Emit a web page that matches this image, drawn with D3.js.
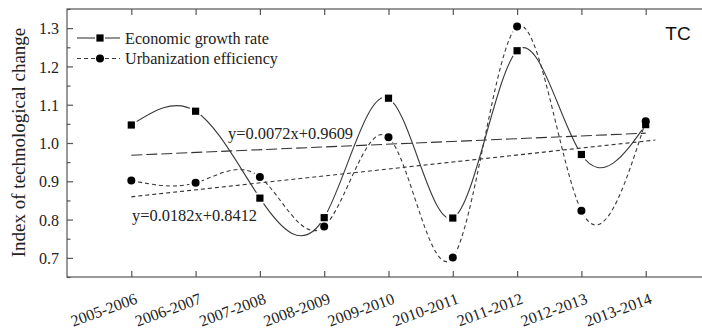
<!DOCTYPE html>
<html>
<head>
<meta charset="utf-8">
<script src="https://cdn.jsdelivr.net/npm/d3@7"></script>
<style>
  html, body { margin: 0; padding: 0; background: #fff; }
  svg { display: block; }
</style>
</head>
<body>
<svg id="chart" width="702" height="329"></svg>
<script>
// Periods on the category axis
const periods = ["2005-2006", "2006-2007", "2007-2008", "2008-2009", "2009-2010",
                 "2010-2011", "2011-2012", "2012-2013", "2013-2014"];
// Index of technological change (TC) per period
const economicGrowth = [1.047, 1.083, 0.856, 0.805, 1.117, 0.804, 1.241, 0.970, 1.048];
const urbanEfficiency = [0.902, 0.896, 0.911, 0.782, 1.015, 0.701, 1.304, 0.823, 1.057];
// Linear trend fits (x = 1..9)
const trendEconomic = { slope: 0.0072, intercept: 0.9609, label: "y=0.0072x+0.9609" };
const trendUrban = { slope: 0.0182, intercept: 0.8412, label: "y=0.0182x+0.8412" };
const yTicks = [0.7, 0.8, 0.9, 1.0, 1.1, 1.2, 1.3];
const yMinorTicks = [0.65, 0.75, 0.85, 0.95, 1.05, 1.15, 1.25, 1.35];
const seriesNames = ["Economic growth rate", "Urbanization efficiency"];

const svg = d3.select("#chart");
const serif = "'Liberation Serif', 'Times New Roman', serif";
const ink = "#222";
const frameColor = "#555";

const plot = { left: 67, right: 710, top: 9, bottom: 277 };
const x = d3.scaleLinear().domain([0, 10]).range([plot.left, plot.right]);
const y = d3.scaleLinear().domain([0.65, 1.35]).range([plot.bottom, plot.top]);
const xi = i => x(i + 1);

// Frame and ticks
const axes = svg.append("g");
axes.append("rect")
  .attr("x", plot.left).attr("y", plot.top)
  .attr("width", plot.right - plot.left).attr("height", plot.bottom - plot.top)
  .attr("fill", "none").attr("stroke", frameColor).attr("stroke-width", 1.2);

const leftAxis = d3.axisRight(y).tickValues(yTicks).tickSize(6).tickFormat(d3.format(".1f"));
const gl = axes.append("g").attr("transform", `translate(${plot.left},0)`).call(leftAxis);
gl.select(".domain").remove();
gl.selectAll(".tick line").attr("stroke", frameColor).attr("stroke-width", 1.2);
gl.selectAll(".tick text")
  .attr("x", -8).attr("text-anchor", "end").attr("dy", "0.35em")
  .attr("fill", ink).style("font-family", serif).style("font-size", "16px");

const leftMinor = d3.axisRight(y).tickValues(yMinorTicks).tickSize(3.5).tickFormat("");
const glm = axes.append("g").attr("transform", `translate(${plot.left},0)`).call(leftMinor);
glm.select(".domain").remove();
glm.selectAll(".tick line").attr("stroke", frameColor).attr("stroke-width", 1.2);

const catScale = d3.scalePoint().domain(periods).range([xi(0), xi(periods.length - 1)]);
const bottomAxis = d3.axisTop(catScale).tickSize(6).tickFormat("");
const gb = axes.append("g").attr("transform", `translate(0,${plot.bottom})`).call(bottomAxis);
gb.select(".domain").remove();
gb.selectAll(".tick line").attr("stroke", frameColor).attr("stroke-width", 1.2);

const topAxis = d3.axisBottom(catScale).tickSize(6).tickFormat("");
const gt = axes.append("g").attr("transform", `translate(0,${plot.top})`).call(topAxis);
gt.select(".domain").remove();
gt.selectAll(".tick line").attr("stroke", frameColor).attr("stroke-width", 1.2);

// Rotated category labels
svg.append("g").selectAll("text")
  .data(periods).join("text")
  .attr("transform", d => `translate(${catScale(d) + 7},303) rotate(-20)`)
  .attr("text-anchor", "end")
  .attr("fill", ink)
  .style("font-family", serif).style("font-size", "16px")
  .text(d => d);

// Y axis title
svg.append("text")
  .attr("transform", "translate(25,142.5) rotate(-90)")
  .attr("text-anchor", "middle")
  .attr("fill", ink)
  .style("font-family", serif).style("font-size", "19px")
  .text("Index of technological change");

// Panel tag
svg.append("text")
  .attr("x", 678).attr("y", 40)
  .attr("text-anchor", "middle")
  .attr("fill", "#111")
  .style("font-family", "'Liberation Sans', Arial, sans-serif").style("font-size", "19px")
  .text("TC");

// Trend lines
const trends = [
  { t: trendEconomic, dash: "11,4", x0: 1, x1: 9, label: { x: 228, y: 139.3 } },
  { t: trendUrban, dash: "4,3", x0: 1, x1: 9.15, label: { x: 132, y: 220.5 } }
];
const trendG = svg.append("g");
trends.forEach(tr => {
  const f = v => tr.t.slope * v + tr.t.intercept;
  trendG.append("line")
    .attr("x1", x(tr.x0)).attr("y1", y(f(tr.x0)))
    .attr("x2", x(tr.x1)).attr("y2", y(f(tr.x1)))
    .attr("stroke", "#333").attr("stroke-width", 1.1)
    .attr("stroke-dasharray", tr.dash);
  trendG.append("text")
    .attr("x", tr.label.x).attr("y", tr.label.y)
    .attr("fill", ink)
    .style("font-family", serif).style("font-size", "16.4px")
    .text(tr.t.label);
});

// Smoothed series curves, with a small gap around each marker
const defs = svg.append("defs");
const series = [
  { name: seriesNames[0], values: economicGrowth, dash: null, marker: "square", id: "gapEco" },
  { name: seriesNames[1], values: urbanEfficiency, dash: "4,3", marker: "circle", id: "gapUrb" }
];
const line = d3.line().x((d, i) => xi(i)).y(d => y(d)).curve(d3.curveNatural);

series.forEach(s => {
  const m = defs.append("mask").attr("id", s.id).attr("maskUnits", "userSpaceOnUse")
    .attr("x", 0).attr("y", 0).attr("width", 702).attr("height", 329);
  m.append("rect").attr("width", 702).attr("height", 329).attr("fill", "#fff");
  m.selectAll("circle").data(s.values).join("circle")
    .attr("cx", (d, i) => xi(i)).attr("cy", d => y(d)).attr("r", 6.5).attr("fill", "#000");

  svg.append("path")
    .datum(s.values)
    .attr("d", line)
    .attr("fill", "none")
    .attr("stroke", "#3a3a3a").attr("stroke-width", 1.1)
    .attr("stroke-dasharray", s.dash)
    .attr("mask", `url(#${s.id})`);
});

function drawMarker(g, type, cx, cy) {
  if (type === "square") {
    g.append("rect").attr("x", cx - 3.6).attr("y", cy - 3.6)
      .attr("width", 7.2).attr("height", 7.2).attr("fill", "#000");
  } else {
    g.append("circle").attr("cx", cx).attr("cy", cy).attr("r", 4).attr("fill", "#000");
  }
}

series.forEach(s => {
  const g = svg.append("g");
  s.values.forEach((v, i) => drawMarker(g, s.marker, xi(i), y(v)));
});

// Legend
const legend = svg.append("g");
const legendRows = [{ s: series[0], y: 38 }, { s: series[1], y: 58.5 }];
legendRows.forEach(r => {
  [[77, 95], [105, 120]].forEach(seg => {
    legend.append("line")
      .attr("x1", seg[0]).attr("x2", seg[1]).attr("y1", r.y).attr("y2", r.y)
      .attr("stroke", "#3a3a3a").attr("stroke-width", 1.1)
      .attr("stroke-dasharray", r.s.dash);
  });
  drawMarker(legend, r.s.marker, 100, r.y);
  legend.append("text")
    .attr("x", 125).attr("y", r.y + 5.5)
    .attr("fill", ink)
    .style("font-family", serif).style("font-size", "16.2px")
    .text(r.s.name);
});
</script>
</body>
</html>
